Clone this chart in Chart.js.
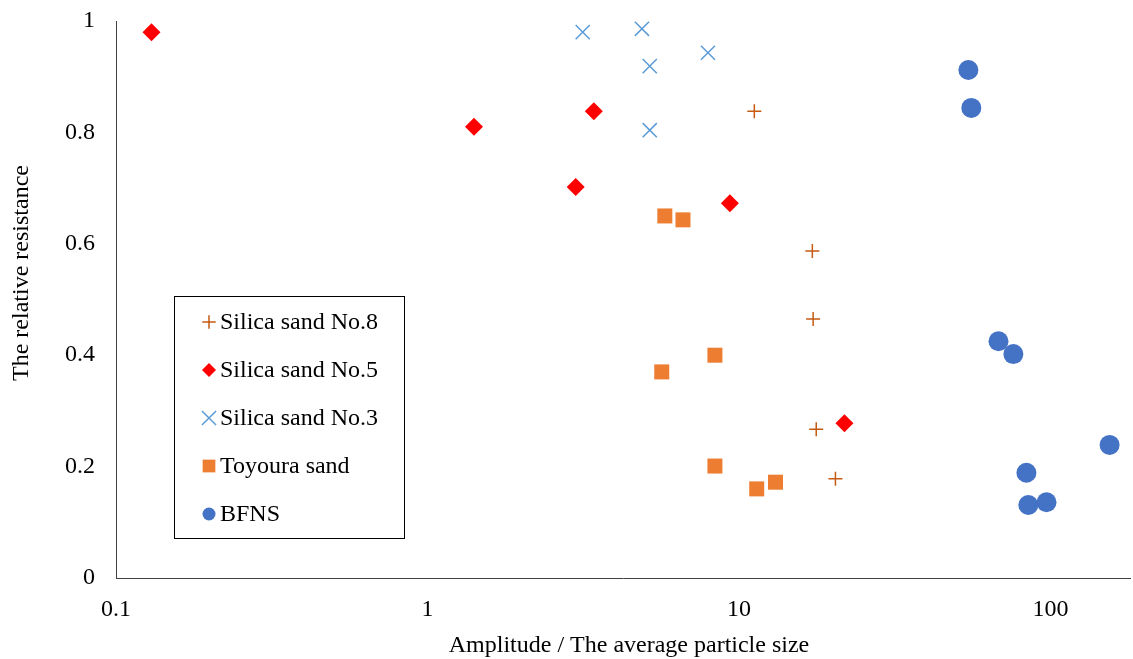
<!DOCTYPE html>
<html>
<head>
<meta charset="utf-8">
<script src="https://cdn.jsdelivr.net/npm/chart.js@4/dist/chart.umd.min.js"></script>
<style>
  html, body { margin: 0; padding: 0; background: #fff; overflow: hidden; }
  canvas { display: block; }
</style>
</head>
<body>
<canvas id="chart" width="1133" height="659"></canvas>
<script>
// series values (x = amplitude / particle size, y = relative resistance)
const silica8X = [11.2, 17.2, 17.3, 17.7, 20.4];
const silica8Y = [0.838, 0.587, 0.465, 0.267, 0.178];

const silica5X = [0.13, 1.41, 3.42, 2.99, 9.35, 21.8];
const silica5Y = [0.980, 0.810, 0.838, 0.702, 0.673, 0.278];

const silica3X = [3.15, 4.88, 7.95, 5.17, 5.17];
const silica3Y = [0.980, 0.986, 0.943, 0.919, 0.804];

const toyouraX = [5.78, 6.61, 8.37, 5.65, 8.37, 11.4, 13.1];
const toyouraY = [0.650, 0.643, 0.400, 0.370, 0.201, 0.160, 0.172];

const bfnsX = [54.5, 55.7, 68.1, 76.0, 154.8, 83.7, 84.9, 97.1];
const bfnsY = [0.912, 0.844, 0.425, 0.402, 0.239, 0.189, 0.131, 0.136];

const xTicks = [0.1, 1, 10, 100];
const yTicks = [0, 0.2, 0.4, 0.6, 0.8, 1];

const FONT = "'Liberation Serif', 'Times New Roman', serif";

function pts(xs, ys) {
  return xs.map((x, i) => ({ x: x, y: ys[i] }));
}

// legend sizes differ a bit from plot markers
const legendRadius = [6.7, 7, 10, 9, 6.5];

const legendBox = {
  id: 'legendBox',
  afterDraw(chart) {
    const ctx = chart.ctx;
    ctx.save();
    ctx.strokeStyle = '#000';
    ctx.lineWidth = 1;
    ctx.strokeRect(174.5, 296.5, 230, 242);
    ctx.font = '24px ' + FONT;
    ctx.textBaseline = 'middle';
    ctx.textAlign = 'left';
    chart.data.datasets.forEach((ds, i) => {
      const y = 322 + i * 48;
      ctx.fillStyle = ds.backgroundColor;
      ctx.strokeStyle = ds.borderColor;
      ctx.lineWidth = ds.borderWidth || 0;
      Chart.helpers.drawPoint(ctx, {
        pointStyle: ds.pointStyle,
        radius: legendRadius[i],
        borderWidth: ds.borderWidth || 0,
        rotation: 0
      }, 209, y);
      ctx.fillStyle = '#000';
      ctx.fillText(ds.label, 220, y + 1);
    });

    // axis titles
    ctx.fillStyle = '#000';
    ctx.textAlign = 'center';
    ctx.fillText('Amplitude / The average particle size', 629, 646);
    ctx.translate(22, 273);
    ctx.rotate(-Math.PI / 2);
    ctx.fillText('The relative resistance', 0, 0);
    ctx.restore();
  }
};

new Chart(document.getElementById('chart'), {
  type: 'scatter',
  data: {
    datasets: [
      {
        label: 'Silica sand No.8',
        data: pts(silica8X, silica8Y),
        pointStyle: 'cross',
        pointRadius: 7,
        borderWidth: 1.5,
        borderColor: '#C55A11',
        backgroundColor: '#C55A11'
      },
      {
        label: 'Silica sand No.5',
        data: pts(silica5X, silica5Y),
        pointStyle: 'rectRot',
        pointRadius: 9,
        borderWidth: 0,
        borderColor: '#FF0000',
        backgroundColor: '#FF0000'
      },
      {
        label: 'Silica sand No.3',
        data: pts(silica3X, silica3Y),
        pointStyle: 'crossRot',
        pointRadius: 10,
        borderWidth: 1.5,
        borderColor: '#5B9BD5',
        backgroundColor: '#5B9BD5'
      },
      {
        label: 'Toyoura sand',
        data: pts(toyouraX, toyouraY),
        pointStyle: 'rect',
        pointRadius: 10.6,
        borderWidth: 0,
        borderColor: '#ED7D31',
        backgroundColor: '#ED7D31'
      },
      {
        label: 'BFNS',
        data: pts(bfnsX, bfnsY),
        pointStyle: 'circle',
        pointRadius: 10,
        borderWidth: 0,
        borderColor: '#4472C4',
        backgroundColor: '#4472C4'
      }
    ]
  },
  options: {
    responsive: false,
    animation: false,
    events: [],
    layout: { autoPadding: false, padding: { top: 21, right: 3, left: 0, bottom: 0 } },
    plugins: {
      legend: { display: false },
      tooltip: { enabled: false }
    },
    scales: {
      x: {
        type: 'logarithmic',
        min: 0.1,
        max: 180,
        grid: { display: false },
        border: { display: true, color: '#404040', width: 1 },
        afterBuildTicks: axis => { axis.ticks = xTicks.map(v => ({ value: v })); },
        afterFit: axis => {
          axis.height = 81;
          axis.paddingLeft = 0;
          axis.paddingRight = 0;
        },
        ticks: {
          autoSkip: false,
          maxRotation: 0,
          padding: 9,
          color: '#000',
          font: { family: FONT, size: 24 },
          callback: v => String(v)
        }
      },
      y: {
        min: 0,
        max: 1,
        grid: { display: false },
        border: { display: true, color: '#404040', width: 1 },
        afterBuildTicks: axis => { axis.ticks = yTicks.map(v => ({ value: v })); },
        afterFit: axis => {
          axis.width = 116;
          axis.paddingTop = 0;
          axis.paddingBottom = 0;
        },
        ticks: {
          padding: 13,
          color: '#000',
          font: { family: FONT, size: 24 },
          callback: v => String(v)
        }
      }
    }
  },
  plugins: [legendBox]
});
</script>
</body>
</html>
